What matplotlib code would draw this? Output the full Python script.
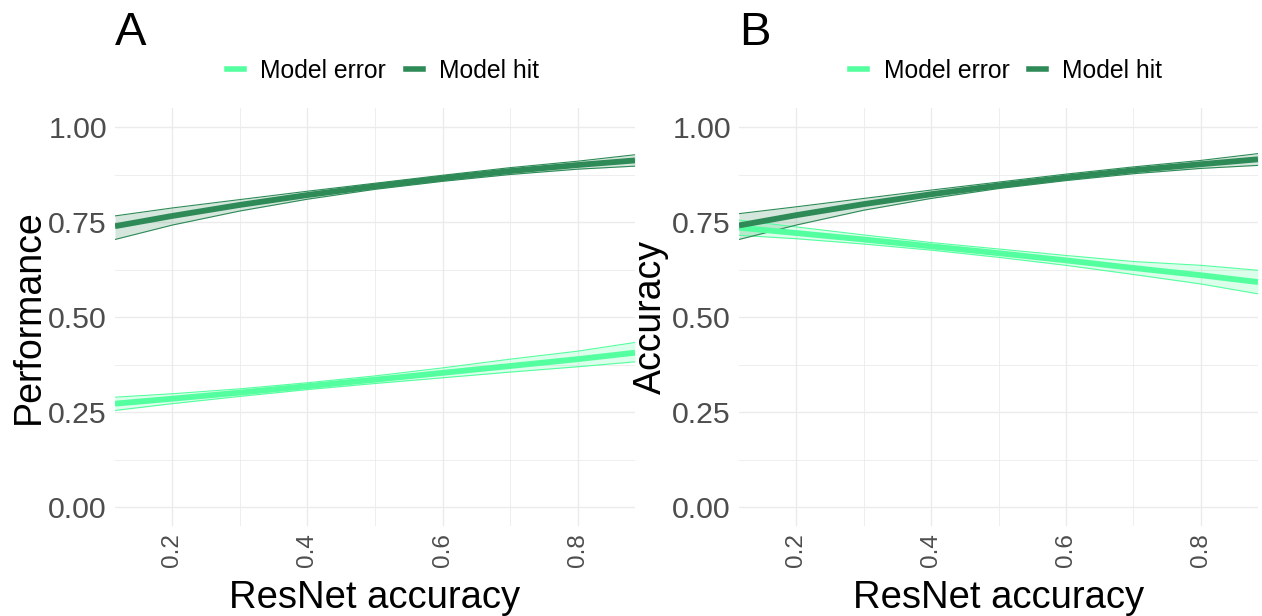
import matplotlib
matplotlib.use('Agg')
import matplotlib.pyplot as plt
from matplotlib.lines import Line2D
from matplotlib.ticker import FixedLocator
from matplotlib import rcParams
rcParams['font.family'] = 'Liberation Sans'

# ResNet accuracy grid the fitted curves were evaluated on
resnet_acc = [0.115, 0.2, 0.3, 0.4, 0.5, 0.6, 0.7, 0.8, 0.885]

# Panel A: performance
perf_hit = [0.739, 0.766, 0.795, 0.821, 0.844, 0.865, 0.884, 0.900, 0.912]
perf_hit_lo = [0.704, 0.742, 0.779, 0.810, 0.836, 0.857, 0.875, 0.889, 0.897]
perf_hit_hi = [0.766, 0.787, 0.809, 0.831, 0.852, 0.873, 0.893, 0.910, 0.927]
perf_err = [0.272, 0.285, 0.301, 0.318, 0.335, 0.353, 0.371, 0.389, 0.406]
perf_err_lo = [0.254, 0.272, 0.291, 0.309, 0.325, 0.340, 0.355, 0.369, 0.382]
perf_err_hi = [0.289, 0.298, 0.311, 0.327, 0.345, 0.366, 0.389, 0.410, 0.433]

# Panel B: accuracy
acc_hit = [0.741, 0.768, 0.797, 0.823, 0.846, 0.867, 0.886, 0.902, 0.915]
acc_hit_lo = [0.704, 0.742, 0.781, 0.812, 0.838, 0.859, 0.877, 0.891, 0.899]
acc_hit_hi = [0.772, 0.790, 0.812, 0.834, 0.855, 0.876, 0.895, 0.912, 0.930]
acc_err = [0.735, 0.721, 0.704, 0.686, 0.668, 0.649, 0.629, 0.610, 0.592]
acc_err_lo = [0.715, 0.706, 0.692, 0.676, 0.657, 0.636, 0.612, 0.587, 0.561]
acc_err_hi = [0.755, 0.737, 0.716, 0.696, 0.679, 0.662, 0.646, 0.636, 0.623]

groups = ['Model error', 'Model hit']
colors = {'Model error': '#54FF9F', 'Model hit': '#2E8B57'}

y_ticks = [0.0, 0.25, 0.5, 0.75, 1.0]
y_ticklabels = ['0.00', '0.25', '0.50', '0.75', '1.00']
x_ticks = [0.2, 0.4, 0.6, 0.8]
x_ticklabels = ['0.2', '0.4', '0.6', '0.8']

W, H = 1262, 616
fig = plt.figure(figsize=(W/100, H/100), dpi=100)

def px_axes(x0, x1, y0, y1):
    return fig.add_axes([x0/W, 1 - y1/H, (x1-x0)/W, (y1-y0)/H])

axA = px_axes(115, 635, 108, 526)
axB = px_axes(739, 1258, 108, 526)

panels = [
    (axA, 'A', 'Performance', 38.5,
     {'Model error': (perf_err, perf_err_lo, perf_err_hi),
      'Model hit': (perf_hit, perf_hit_lo, perf_hit_hi)}),
    (axB, 'B', 'Accuracy', 661,
     {'Model error': (acc_err, acc_err_lo, acc_err_hi),
      'Model hit': (acc_hit, acc_hit_lo, acc_hit_hi)}),
]

for ax, tag, ylab, ylab_x, series in panels:
    # ribbons first, then the fitted lines on top
    for g in groups:
        mid, lo, hi = series[g]
        ax.fill_between(resnet_acc, lo, hi, color=colors[g], alpha=0.2, linewidth=0, zorder=2)
        ax.plot(resnet_acc, lo, color=colors[g], lw=0.8, zorder=3)
        ax.plot(resnet_acc, hi, color=colors[g], lw=0.8, zorder=3)
    for g in groups:
        mid, lo, hi = series[g]
        ax.plot(resnet_acc, mid, color=colors[g], lw=4.2, solid_capstyle='butt', zorder=4)

    ax.set_xlim(0.115, 0.885)
    ax.set_ylim(-0.05, 1.05)
    ax.set_yticks(y_ticks)
    ax.set_yticklabels(y_ticklabels)
    ax.set_xticks(x_ticks)
    ax.set_xticklabels(x_ticklabels, rotation=90)
    ax.yaxis.set_minor_locator(FixedLocator([0.125, 0.375, 0.625, 0.875]))
    ax.xaxis.set_minor_locator(FixedLocator([0.3, 0.5, 0.7]))
    ax.tick_params(axis='both', which='both', length=0)
    ax.tick_params(axis='y', labelsize=21.8, labelcolor='#4D4D4D', pad=5.8)
    ax.tick_params(axis='x', labelsize=17.5, labelcolor='#4D4D4D', pad=5)
    ax.grid(which='major', color='#EBEBEB', lw=1.0, zorder=0)
    ax.grid(which='minor', color='#EBEBEB', lw=0.6, zorder=0)
    ax.set_axisbelow(True)
    for s in ax.spines.values():
        s.set_visible(False)

    handles = [Line2D([0], [0], color=colors[g], lw=4) for g in groups]
    ax.legend(handles, groups, loc='center', bbox_to_anchor=(0.515, 1.0885), ncol=2,
              frameon=False, fontsize=17.8, handlelength=0.7, handletextpad=0.65,
              columnspacing=0.8, borderaxespad=0)

    bb = ax.get_position()
    fig.text(bb.x0 + bb.width/2, 1 - 608/H, 'ResNet accuracy', fontsize=27.5,
             ha='center', va='baseline')
    fig.text(ylab_x/W, bb.y0 + bb.height/2, ylab, fontsize=27, rotation=90,
             rotation_mode='anchor', ha='center', va='baseline')
    fig.text(bb.x0, 1 - 45/H, tag, fontsize=34, ha='left', va='baseline')

fig.savefig('out.png', dpi=100)
